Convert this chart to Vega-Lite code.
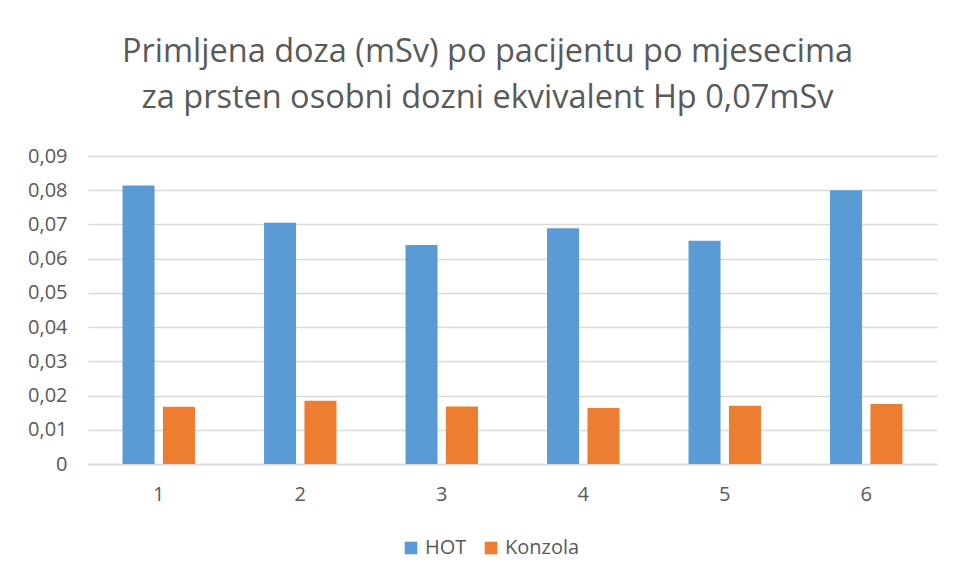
{
  "$schema": "https://vega.github.io/schema/vega-lite/v6.json",
  "width": 849,
  "height": 308,
  "autosize": {"type": "none"},
  "padding": {"left": 88, "top": 156, "right": 19, "bottom": 116},
  "background": "white",
  "title": {
    "text": ["Primljena doza (mSv) po pacijentu po mjesecima", "za prsten osobni dozni ekvivalent Hp 0,07mSv"],
    "font": "Open Sans",
    "fontSize": 32.5,
    "fontWeight": "normal",
    "color": "#595959",
    "lineHeight": 46,
    "anchor": "middle",
    "dx": -25,
    "offset": 32
  },
  "data": {
    "values": [
      {"mjesec": "1", "serija": "HOT", "doza": 0.0814},
      {"mjesec": "1", "serija": "Konzola", "doza": 0.0167},
      {"mjesec": "2", "serija": "HOT", "doza": 0.0705},
      {"mjesec": "2", "serija": "Konzola", "doza": 0.0185},
      {"mjesec": "3", "serija": "HOT", "doza": 0.0640},
      {"mjesec": "3", "serija": "Konzola", "doza": 0.0168},
      {"mjesec": "4", "serija": "HOT", "doza": 0.0689},
      {"mjesec": "4", "serija": "Konzola", "doza": 0.0164},
      {"mjesec": "5", "serija": "HOT", "doza": 0.0652},
      {"mjesec": "5", "serija": "Konzola", "doza": 0.0170},
      {"mjesec": "6", "serija": "HOT", "doza": 0.0800},
      {"mjesec": "6", "serija": "Konzola", "doza": 0.0175}
    ]
  },
  "mark": {"type": "bar"},
  "encoding": {
    "x": {
      "field": "mjesec",
      "type": "ordinal",
      "scale": {"paddingInner": 0.488, "paddingOuter": 0.244},
      "axis": {
        "title": null,
        "labelAngle": 0,
        "labelFont": "Open Sans",
        "labelFontSize": 20,
        "labelColor": "#595959",
        "labelPadding": 20,
        "ticks": false,
        "domainColor": "#d9d9d9",
        "domainWidth": 1.5
      }
    },
    "xOffset": {
      "field": "serija",
      "type": "nominal",
      "scale": {"paddingInner": 0.208, "paddingOuter": 0}
    },
    "y": {
      "field": "doza",
      "type": "quantitative",
      "scale": {"domain": [0, 0.09], "nice": false},
      "axis": {
        "title": null,
        "values": [0, 0.01, 0.02, 0.03, 0.04, 0.05, 0.06, 0.07, 0.08, 0.09],
        "labelExpr": "datum.value == 0 ? '0' : replace(format(datum.value, '.2f'), '.', ',')",
        "labelFont": "Open Sans",
        "labelFontSize": 20,
        "labelColor": "#595959",
        "labelPadding": 21,
        "ticks": false,
        "domain": false,
        "gridColor": "#d9d9d9",
        "gridWidth": 1.5
      }
    },
    "color": {
      "field": "serija",
      "type": "nominal",
      "scale": {"domain": ["HOT", "Konzola"], "range": ["#5B9BD5", "#ED7D31"]},
      "legend": {
        "title": null,
        "orient": "none",
        "direction": "horizontal",
        "legendX": 313,
        "legendY": 382,
        "symbolType": "square",
        "symbolSize": 160,
        "symbolStrokeWidth": 0,
        "labelFont": "Open Sans",
        "labelFontSize": 20,
        "labelColor": "#595959",
        "columnPadding": 14,
        "labelOffset": 4
      }
    }
  },
  "config": {
    "view": {"stroke": null}
  }
}
